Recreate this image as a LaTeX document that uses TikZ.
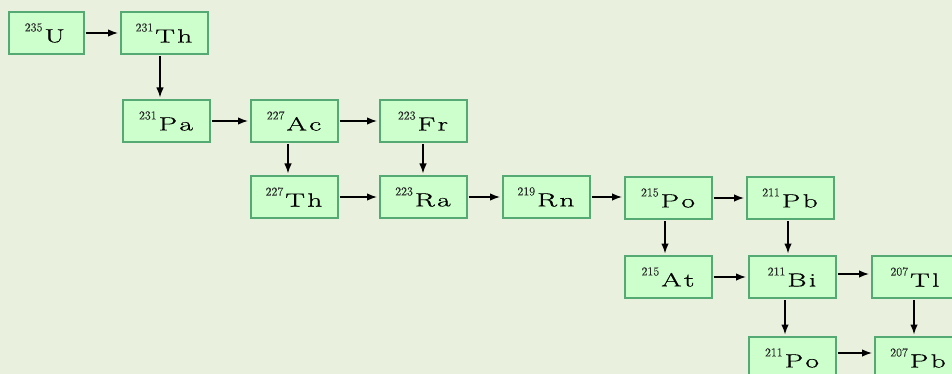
\documentclass[tikz,border=0pt]{standalone}
\usepackage{graphicx}
\usepackage{fontspec}
\newfontfamily\symfont{Latin Modern Roman}[FakeBold=0.6]
\newfontfamily\massfont{Latin Modern Roman}[FakeBold=0.2]
\usetikzlibrary{arrows.meta}
\definecolor{bg}{RGB}{233,241,222}
\definecolor{boxfill}{RGB}{204,255,204}
\definecolor{boxline}{RGB}{85,170,115}
\definecolor{massgray}{RGB}{40,40,40}
% mass number raised above the cap line, element symbol set wide and spaced
\newcommand\nuc[3]{\raisebox{11pt}{\massfont\fontsize{12}{12}\selectfont\color{massgray}#1}\kern2pt\scalebox{1.55}[1]{#2\kern1.5pt#3}}
\tikzset{
  nuclide/.style={draw=boxline, fill=boxfill, line width=2pt,
    minimum width=87pt, minimum height=42pt, inner sep=0pt,
    font=\fontsize{19}{21}\symfont},
  decay/.style={-{Latex[length=10pt,width=7.5pt]}, line width=1.4pt,
    shorten >=1.5pt, shorten <=1pt}
}
\begin{document}
\begin{tikzpicture}[x=1pt,y=-1pt]
\fill[bg] (0,0) rectangle (952,374);
\clip (0,0) rectangle (952,374);

% nuclides of the actinium series
\node[nuclide, minimum width=75pt] (u235) at (46,33) {\nuc{235}{U}{}};
\node[nuclide] (th231) at (164,33)  {\nuc{231}{T}{h}};
\node[nuclide] (pa231) at (166,121) {\nuc{231}{P}{a}};
\node[nuclide] (ac227) at (294,121) {\nuc{227}{A}{c}};
\node[nuclide] (fr223) at (423,121) {\nuc{223}{F}{r}};
\node[nuclide] (th227) at (294,197) {\nuc{227}{T}{h}};
\node[nuclide] (ra223) at (423,197) {\nuc{223}{R}{a}};
\node[nuclide] (rn219) at (546,197) {\nuc{219}{R}{n}};
\node[nuclide] (po215) at (668,198) {\nuc{215}{P}{o}};
\node[nuclide] (pb211) at (790,198) {\nuc{211}{P}{b}};
\node[nuclide] (at215) at (668,277) {\nuc{215}{A}{t}};
\node[nuclide] (bi211) at (792,277) {\nuc{211}{B}{i}};
\node[nuclide] (tl207) at (915,277) {\nuc{207}{T}{l}};
\node[nuclide] (po211) at (792,358) {\nuc{211}{P}{o}};
\node[nuclide] (pb207) at (918,358) {\nuc{207}{P}{b}};

% decay steps
\draw[decay] (u235.east) -- (th231.west);
\draw[decay] ([xshift=-4pt]th231.south) -- ([xshift=-4pt]th231.south |- pa231.north);
\draw[decay] (pa231.east) -- (pa231.east -| ac227.west);
\draw[decay] (ac227.east) -- (fr223.west);
\draw[decay] ([xshift=-6pt]ac227.south) -- ([xshift=-6pt]ac227.south |- th227.north);
\draw[decay] (fr223.south) -- (ra223.north);
\draw[decay] (th227.east) -- (ra223.west);
\draw[decay] (ra223.east) -- (rn219.west);
\draw[decay] (rn219.east) -- (rn219.east -| po215.west);
\draw[decay] (po215.east) -- (pb211.west);
\draw[decay] ([xshift=-3pt]po215.south) -- ([xshift=-3pt]po215.south |- at215.north);
\draw[decay] ([xshift=-2pt]pb211.south) -- ([xshift=-2pt]pb211.south |- bi211.north);
\draw[decay] (at215.east) -- (at215.east -| bi211.west);
\draw[decay] ([yshift=3pt]bi211.east) -- ([yshift=3pt]bi211.east -| tl207.west);
\draw[decay] ([xshift=-7pt]bi211.south) -- ([xshift=-7pt]bi211.south |- po211.north);
\draw[decay] ([xshift=-1pt]tl207.south) -- ([xshift=-1pt]tl207.south |- pb207.north);
\draw[decay] ([yshift=5pt]po211.east) -- ([yshift=5pt]po211.east -| pb207.west);
\end{tikzpicture}
\end{document}
